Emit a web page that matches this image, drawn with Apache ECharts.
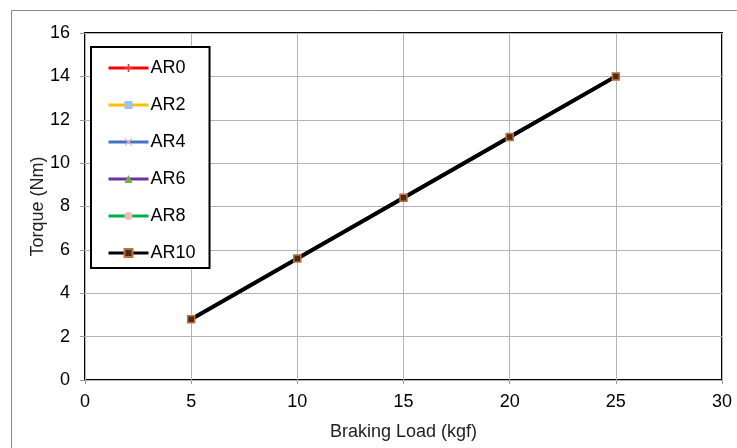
<!DOCTYPE html>
<html>
<head>
<meta charset="utf-8">
<script src="https://cdn.jsdelivr.net/npm/echarts@6/dist/echarts.min.js"></script>
<style>
  html, body { margin: 0; padding: 0; background: #fff; }
  #main { width: 737px; height: 448px; }
</style>
</head>
<body>
<div id="main"></div>
<script>
// braking load (kgf) on x, torque (Nm) on y
const loads = [5, 10, 15, 20, 25];
const ar0 = [2.8, 5.6, 8.4, 11.2, 14.0];
const ar2 = [2.8, 5.6, 8.4, 11.2, 14.0];
const ar4 = [2.8, 5.6, 8.4, 11.2, 14.0];
const ar6 = [2.8, 5.6, 8.4, 11.2, 14.0];
const ar8 = [2.8, 5.6, 8.4, 11.2, 14.0];
const ar10 = [2.8, 5.6, 8.4, 11.2, 14.0];
const names = ['AR0', 'AR2', 'AR4', 'AR6', 'AR8', 'AR10'];

const font = 'Liberation Sans, Arial, sans-serif';
const pairs = (ys) => loads.map((x, i) => [x, ys[i]]);

const plusPath = 'path://M4,0H6V4H10V6H6V10H4V6H0V4H4Z';
const crossPath = 'path://M1,0L5,4L9,0L10,1L6,5L10,9L9,10L5,6L1,10L0,9L4,5L0,1Z';

const looks = [
  { data: ar0, color: '#ff0000', width: 3, symbol: plusPath, mark: '#e04040', border: 'transparent', size: 5 },
  { data: ar2, color: '#ffc000', width: 3, symbol: 'rect', mark: '#9dc3e6', border: 'transparent', size: 5 },
  { data: ar4, color: '#4472c4', width: 3, symbol: crossPath, mark: '#f4b0b0', border: 'transparent', size: 5 },
  { data: ar6, color: '#7030a0', width: 3, symbol: 'triangle', mark: '#70ad47', border: 'transparent', size: 5 },
  { data: ar8, color: '#00b050', width: 3, symbol: 'circle', mark: '#f4b8b0', border: 'transparent', size: 4 },
  { data: ar10, color: '#000000', width: 4, symbol: 'rect', mark: '#4a2a1a', border: '#c0703a', size: 7 }
];

const chart = echarts.init(document.getElementById('main'));
chart.setOption({
  animation: false,
  backgroundColor: '#fff',
  textStyle: { fontFamily: font },
  graphic: [{
    type: 'rect',
    shape: { x: 11.5, y: 10.5, width: 800, height: 500 },
    style: { fill: 'none', stroke: '#888', lineWidth: 1 },
    z: -1
  }],
  grid: {
    left: 85, right: 15, top: 33, bottom: 68,
    show: true, borderColor: '#000', borderWidth: 2, backgroundColor: 'transparent'
  },
  legend: {
    orient: 'vertical',
    left: 91, top: 47,
    data: names,
    itemWidth: 40, itemHeight: 10, itemGap: 19,
    padding: [12, 14, 6, 16],
    borderColor: '#000', borderWidth: 2,
    backgroundColor: '#fff',
    lineStyle: { width: 3 },
    textStyle: { fontFamily: font, fontSize: 18, color: '#000', padding: [0, 0, 0, -3] }
  },
  xAxis: {
    type: 'value', min: 0, max: 30, interval: 5,
    name: 'Braking Load (kgf)', nameLocation: 'middle', nameGap: 43, nameMoveOverlap: false,
    nameTextStyle: { fontFamily: font, fontSize: 18, color: '#222' },
    axisLine: { show: false },
    axisTick: { show: true, length: 4, lineStyle: { color: '#999' } },
    axisLabel: { fontFamily: font, fontSize: 18, color: '#000', margin: 13 },
    splitLine: { show: true, lineStyle: { color: '#b4b4b4', width: 1 } }
  },
  yAxis: {
    type: 'value', min: 0, max: 16, interval: 2,
    name: 'Torque (Nm)', nameLocation: 'middle', nameGap: 38, nameMoveOverlap: false,
    nameTextStyle: { fontFamily: font, fontSize: 18, color: '#222' },
    axisLine: { show: false },
    axisTick: { show: true, length: 5, lineStyle: { color: '#999' } },
    axisLabel: { fontFamily: font, fontSize: 18, color: '#000', margin: 15 },
    splitLine: { show: true, lineStyle: { color: '#b4b4b4', width: 1 } }
  },
  series: looks.map((s, i) => ({
    name: names[i],
    type: 'line',
    data: pairs(s.data),
    symbol: s.symbol,
    symbolSize: s.size,
    showSymbol: true,
    lineStyle: { color: s.color, width: s.width },
    itemStyle: { color: s.mark, borderColor: s.border, borderWidth: s.border === 'transparent' ? 0 : 1.5 },
    z: 2 + i
  }))
});
window.addEventListener('resize', function () {
  chart.resize();
});
</script>
</body>
</html>
